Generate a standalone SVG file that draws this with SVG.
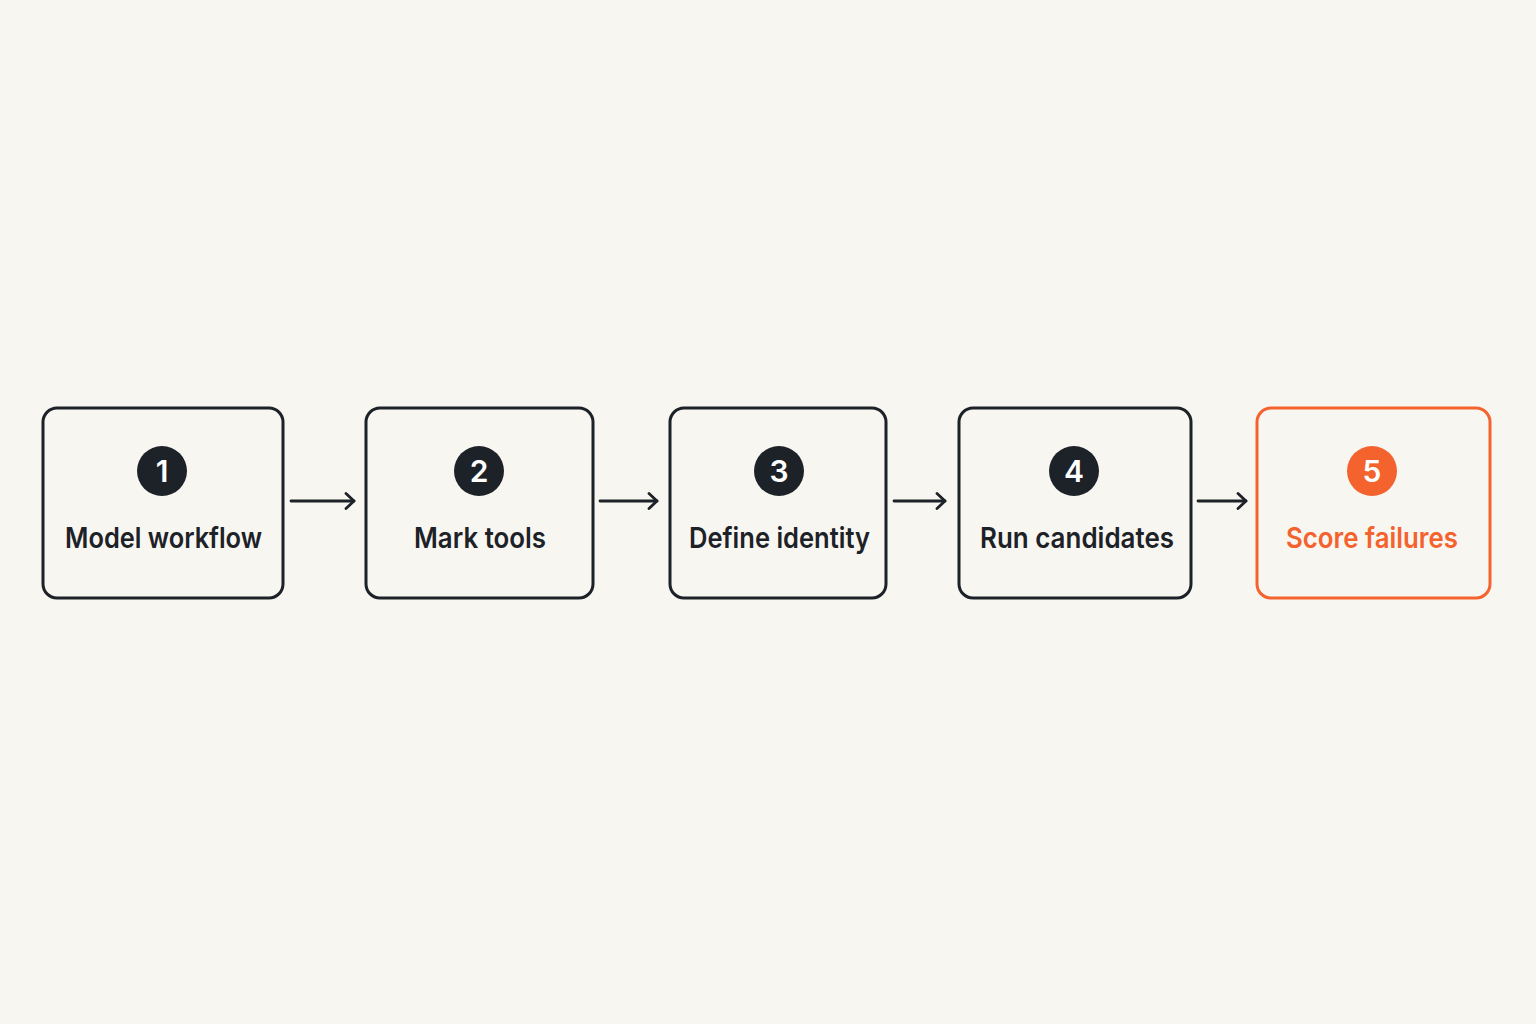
<svg xmlns="http://www.w3.org/2000/svg" width="1536" height="1024" viewBox="0 0 1536 1024">
<style>
.box{fill:none;stroke:#1c2227;stroke-width:3}
.box.hl{stroke:#f4622e}
.dot{fill:#1c2227}
.dot.hl{fill:#f4622e}
.num{font-family:Inter,"Liberation Sans",sans-serif;font-size:30px;font-weight:600;fill:#ffffff;text-anchor:middle}
.lbl{font-family:Inter,"Liberation Sans",sans-serif;font-size:29px;font-weight:600;fill:#1c2227;text-anchor:middle}
.lbl.hl{fill:#f4622e}
.conn{fill:none;stroke:#1c2227;stroke-width:2.8;stroke-linecap:round;stroke-linejoin:round}
</style>
<defs>
<marker id="arr" viewBox="0 0 12 18" refX="10" refY="9" markerWidth="12" markerHeight="18" markerUnits="userSpaceOnUse" orient="auto">
<path d="M2,1.5 L10,9 L2,16.5" fill="none" stroke="#1c2227" stroke-width="2.8" stroke-linecap="round" stroke-linejoin="round"/>
</marker>
</defs>
<rect width="1536" height="1024" fill="#f8f6f1"/>
<g id="connectors">
<line class="conn" x1="291" y1="501" x2="354" y2="501" marker-end="url(#arr)"/>
<line class="conn" x1="600" y1="501" x2="657" y2="501" marker-end="url(#arr)"/>
<line class="conn" x1="894" y1="501" x2="945" y2="501" marker-end="url(#arr)"/>
<line class="conn" x1="1198" y1="501" x2="1246" y2="501" marker-end="url(#arr)"/>
</g>
<g id="node1">
<rect class="box" x="43" y="408" width="240" height="190" rx="14"/>
<circle class="dot" cx="162" cy="471" r="25"/>
<text class="num" x="162" y="482">1</text>
<text class="lbl" x="163.5" y="548" textLength="197" lengthAdjust="spacingAndGlyphs">Model workflow</text>
</g>
<g id="node2">
<rect class="box" x="366" y="408" width="227" height="190" rx="14"/>
<circle class="dot" cx="479" cy="471" r="25"/>
<text class="num" x="479" y="482">2</text>
<text class="lbl" x="480" y="548" textLength="132" lengthAdjust="spacingAndGlyphs">Mark tools</text>
</g>
<g id="node3">
<rect class="box" x="670" y="408" width="216" height="190" rx="14"/>
<circle class="dot" cx="779" cy="471" r="25"/>
<text class="num" x="779" y="482">3</text>
<text class="lbl" x="779.5" y="548" textLength="181" lengthAdjust="spacingAndGlyphs">Define identity</text>
</g>
<g id="node4">
<rect class="box" x="959" y="408" width="232" height="190" rx="14"/>
<circle class="dot" cx="1074" cy="471" r="25"/>
<text class="num" x="1074" y="482">4</text>
<text class="lbl" x="1077" y="548" textLength="194" lengthAdjust="spacingAndGlyphs">Run candidates</text>
</g>
<g id="node5">
<rect class="box hl" x="1257" y="408" width="233" height="190" rx="14"/>
<circle class="dot hl" cx="1372" cy="471" r="25"/>
<text class="num" x="1372" y="482">5</text>
<text class="lbl hl" x="1372" y="548" textLength="172" lengthAdjust="spacingAndGlyphs">Score failures</text>
</g>
</svg>
